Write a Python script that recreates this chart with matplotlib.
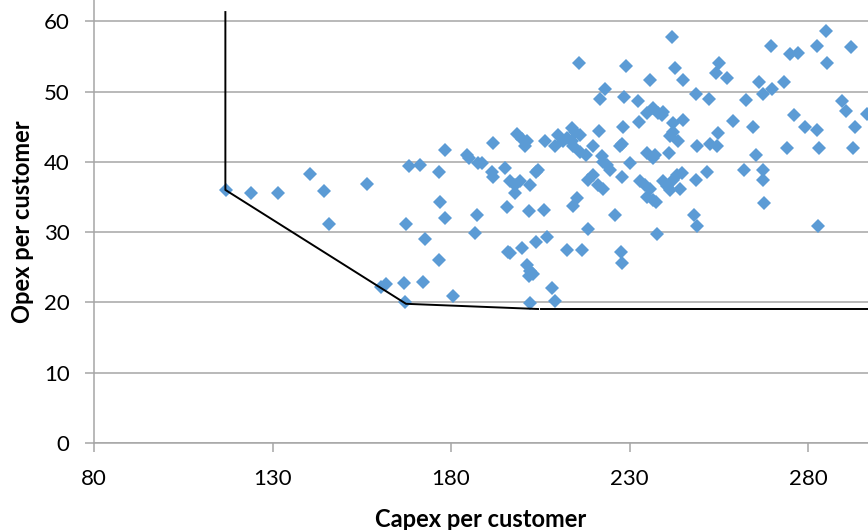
import matplotlib
matplotlib.use("Agg")
import matplotlib.pyplot as plt

# capex / opex per customer, one pair per operator
capex = [
    117.0, 123.9, 131.5, 140.5, 144.5, 145.9, 156.6, 160.5, 161.8, 166.8,
    167.1, 172.2, 180.5, 167.4, 172.8, 176.7, 176.9, 178.4, 168.3, 171.3,
    176.7, 178.3, 184.4, 185.1, 187.6, 187.2, 186.7,
    188.6, 191.9, 191.4, 191.8, 195.1, 196.5, 197.9, 199.3, 202.1, 197.9,
    195.6, 201.9, 206.1, 196.1, 196.5, 199.8, 203.7, 207.0, 201.2, 202.1,
    202.9, 201.9, 208.4, 209.1, 202.1, 212.4, 216.8, 218.5, 214.3, 215.2,
    198.4, 199.8, 201.2, 200.7, 206.3, 204.4, 203.9,
    210.0, 209.1, 211.5, 212.4, 213.8, 214.7, 216.1, 213.8, 214.3, 216.1, 217.9,
    219.9, 221.5, 221.6, 223.1, 215.8, 222.3, 222.7, 223.6, 224.5, 218.5,
    219.9, 221.3, 222.7, 227.8, 225.8, 227.8, 227.3, 228.1, 228.5, 229.0,
    230.1, 227.5, 227.8, 232.7, 232.3, 235.7, 234.8, 236.7, 238.1, 239.0,
    239.5, 234.8, 236.7, 237.1, 232.9, 234.3, 235.7, 234.8, 236.7, 237.4,
    237.6, 239.5, 240.4, 241.3, 242.3, 243.2, 244.6, 244.1, 241.2, 241.3,
    242.3, 243.7, 241.9, 242.7, 245.1, 242.3, 245.1, 248.6, 252.3, 248.8,
    252.6, 254.4, 254.9, 248.6, 251.8, 248.1, 249.0, 255.2, 254.2, 257.2,
    259.1, 262.5, 264.5, 265.4, 262.1, 267.3, 267.3, 267.7, 266.4, 267.3,
    269.8, 269.5, 273.4, 275.0, 277.3, 276.1, 274.2, 279.2, 282.4, 283.1,
    282.7, 282.4, 285.2, 285.0, 292.0, 289.4, 290.6, 293.3, 292.5, 296.4,
]
opex = [
    36.0, 35.5, 35.6, 38.2, 35.8, 31.2, 36.9, 22.2, 22.6, 22.7,
    20.0, 22.9, 20.9, 31.2, 29.0, 26.0, 34.3, 32.0, 39.4, 39.6,
    38.5, 41.7, 40.9, 40.6, 39.9, 32.4, 29.9,
    39.8, 42.7, 38.6, 37.9, 39.1, 37.2, 36.7, 37.2, 36.7, 35.5,
    33.5, 33.0, 33.1, 27.2, 27.0, 27.8, 28.6, 29.3, 25.3, 24.5,
    24.1, 23.7, 22.1, 20.2, 19.9, 27.4, 27.5, 30.4, 33.7, 34.9,
    44.0, 43.3, 42.9, 42.2, 43.0, 38.8, 38.6,
    43.8, 42.2, 42.9, 43.4, 44.8, 44.3, 43.8, 43.0, 42.2, 41.4, 41.0,
    42.2, 44.4, 48.9, 50.4, 54.0, 40.8, 40.0, 39.5, 38.8, 37.4,
    38.1, 36.7, 36.2, 37.9, 32.4, 42.6, 42.2, 45.0, 49.2, 53.6,
    39.9, 27.1, 25.6, 45.6, 48.7, 51.6, 46.9, 47.6, 46.9, 46.7,
    47.1, 41.2, 40.5, 41.0, 37.2, 36.7, 36.2, 35.0, 34.6, 34.3,
    29.7, 37.2, 36.5, 36.0, 37.4, 38.1, 38.4, 36.2, 41.2, 43.7,
    44.3, 42.9, 57.7, 53.3, 51.7, 45.5, 45.9, 49.6, 48.9, 42.2,
    42.6, 42.2, 44.1, 37.4, 38.5, 32.4, 30.9, 54.1, 52.6, 51.9,
    45.8, 48.8, 45.0, 40.9, 38.8, 38.8, 37.4, 34.2, 51.4, 49.7,
    50.4, 56.5, 51.4, 55.3, 55.5, 46.7, 41.9, 44.9, 44.5, 41.9,
    30.9, 56.5, 54.0, 58.6, 56.3, 48.6, 47.2, 44.9, 41.9, 46.8,
]

# efficiency frontier (two pieces, small break near 205)
frontier_x1 = [116.8, 116.8, 167.4, 204.4]
frontier_y1 = [61.3, 36.0, 19.8, 19.06]
frontier_x2 = [205.3, 400.0]
frontier_y2 = [19.06, 19.06]

x_ticks = [80, 130, 180, 230, 280]
y_ticks = [0, 10, 20, 30, 40, 50, 60]

plt.rcParams["font.family"] = ["Lato", "DejaVu Sans"]

fig = plt.figure(figsize=(8.68, 5.30), dpi=100)
ax = fig.add_axes([94 / 868, 87 / 530, 774 / 868, 443 / 530])

ax.plot(capex, opex, linestyle="none", marker="D", markersize=6.8,
        color="#5B9BD5", markeredgewidth=0, zorder=3)
ax.plot(frontier_x1, frontier_y1, color="black", linewidth=1.4, zorder=4)
ax.plot(frontier_x2, frontier_y2, color="black", linewidth=1.4, zorder=4)

ax.set_xlim(80, 80 + 774 / 3.57)
ax.set_ylim(0, 443 / 7.03)
ax.set_xticks(x_ticks)
ax.set_yticks(y_ticks)
ax.yaxis.grid(True, color="#A6A6A6", linewidth=1.1)
ax.set_axisbelow(True)

for side in ["top", "right"]:
    ax.spines[side].set_visible(False)
for side in ["left", "bottom"]:
    ax.spines[side].set_color("#A6A6A6")
    ax.spines[side].set_linewidth(1.1)

ax.tick_params(axis="both", colors="#A6A6A6", labelcolor="black",
               labelsize=16, length=6.5, width=1.1, direction="out")
ax.tick_params(axis="x", pad=12)
ax.tick_params(axis="y", pad=11)

ax.set_xlabel("Capex per customer", fontsize=17, fontweight="bold", labelpad=14)
ax.set_ylabel("Opex per customer", fontsize=17, fontweight="bold", labelpad=7)

fig.savefig("out.png", dpi=100)
